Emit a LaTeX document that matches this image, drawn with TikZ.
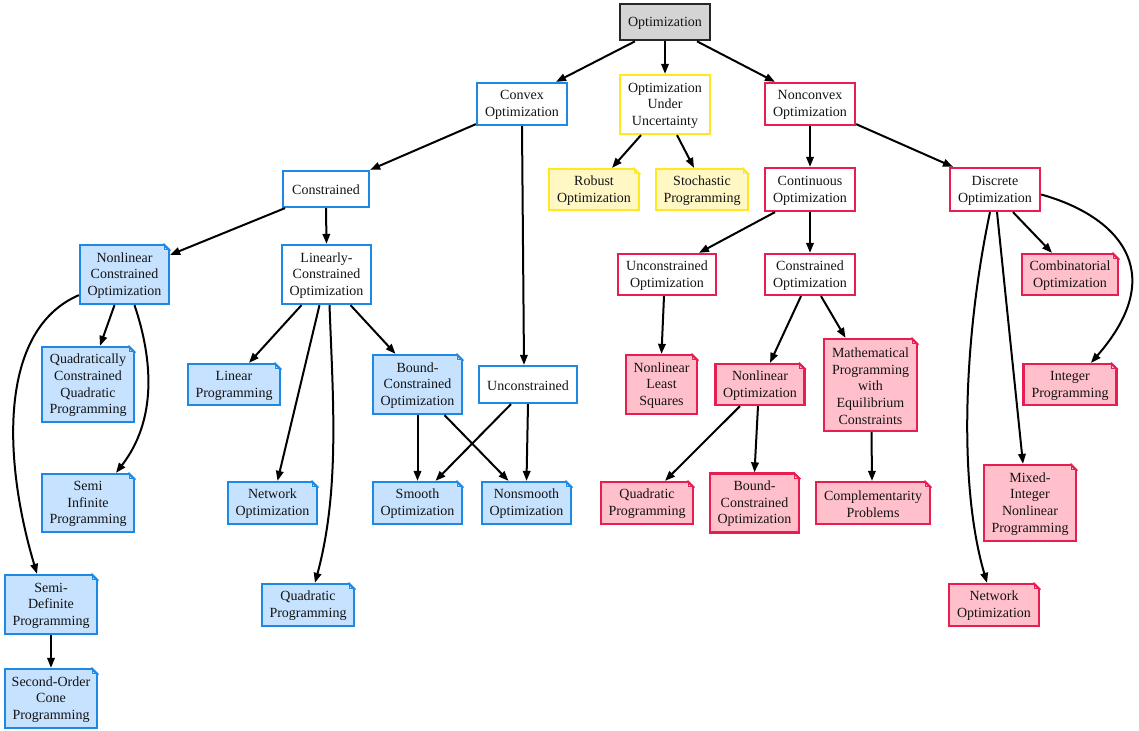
\documentclass[tikz,border=0pt]{standalone}
\usepackage{fontspec}
\setmainfont{Liberation Serif}
\usetikzlibrary{arrows.meta}
\definecolor{bluec}{HTML}{1E88E5}
\definecolor{bluef}{HTML}{C6E2FF}
\definecolor{redc}{HTML}{E91E50}
\definecolor{redf}{HTML}{FFC0CB}
\definecolor{yelc}{HTML}{FFE81F}
\definecolor{yelf}{HTML}{FFF8C4}
\tikzset{
  x=0.75pt,y=-0.75pt,
  box/.style={draw,line width=1.7pt,inner sep=0pt,align=center,font=\fontsize{10.5}{12.5}\selectfont,text=black!92},
  blue/.style={box,draw=bluec},
  red/.style={box,draw=redc},
  yel/.style={box,draw=yelc},
  root/.style={box,draw=black!85,fill=black!17,line width=2pt},
  edge/.style={line width=1.5pt,draw=black,-{Triangle[length=7.5pt,width=5.6pt]}},
}
\newcommand\nd[7]{\node[#6,minimum width=#4*0.75pt,minimum height=#5*0.75pt] (#1) at (#2,#3) {\rule{0pt}{8.6pt}#7};}
\newcommand\fold[3]{%
  \fill[white] ([shift={(-7,-1.3)}]#1.north east) -- ([shift={(1.3,-1.3)}]#1.north east) -- ([shift={(1.3,7)}]#1.north east) -- cycle;
  \fill[#3] ([shift={(-6.5,0)}]#1.north east) -- ([shift={(-6.5,6.5)}]#1.north east) -- ([shift={(0,6.5)}]#1.north east) -- cycle;
  \draw[#2,line width=1.7pt] ([shift={(-7,0)}]#1.north east) -- ([shift={(0,7)}]#1.north east);
  \draw[#2,line width=0.9pt] ([shift={(-6,0)}]#1.north east) -- ([shift={(-6,6)}]#1.north east) -- ([shift={(0,6)}]#1.north east);
}
\newcommand\bn[6]{\nd{#1}{#2}{#3}{#4}{#5}{blue,fill=bluef}{#6}\fold{#1}{bluec}{bluef!40!white}}
\newcommand\rn[6]{\nd{#1}{#2}{#3}{#4}{#5}{red,fill=redf}{#6}\fold{#1}{redc}{redf!40!white}}
\newcommand\yn[6]{\nd{#1}{#2}{#3}{#4}{#5}{yel,fill=yelf}{#6}\fold{#1}{yelc}{yelf!40!white}}
\newcommand\ed[4]{\draw[edge] ([shift={(#2,0)}]#1.south) -- ([shift={(#4,0)}]#3.north);}
\begin{document}
\begin{tikzpicture}
\useasboundingbox (0,0) rectangle (1139,731);
\nd{opt}{665}{22}{90}{36}{root}{Optimization}
\nd{convex}{522}{104}{90}{42}{blue}{Convex\\Optimization}
\nd{ouu}{665}{104.5}{90}{59}{yel}{Optimization\\Under\\Uncertainty}
\nd{nonconvex}{810}{104}{90}{42}{red}{Nonconvex\\Optimization}
\nd{constr}{326}{189}{86}{36}{blue}{Constrained}
\yn{robust}{594}{189.5}{90}{41}{Robust\\Optimization}
\yn{stoch}{702}{189.5}{92}{41}{Stochastic\\Programming}
\nd{cont}{810}{189.5}{90}{43}{red}{Continuous\\Optimization}
\nd{disc}{995}{189.5}{90}{43}{red}{Discrete\\Optimization}
\bn{nlco}{124.5}{274.5}{89}{59}{Nonlinear\\Constrained\\Optimization}
\nd{lin}{326.5}{274.5}{89}{59}{blue}{Linearly-\\Constrained\\Optimization}
\nd{unco}{667}{274.5}{98}{41}{red}{Unconstrained\\Optimization}
\nd{coo}{810}{274.5}{90}{41}{red}{Constrained\\Optimization}
\rn{comb}{1070}{274.5}{96}{41}{Combinatorial\\Optimization}
\bn{qcqp}{88}{384.5}{92}{75}{Quadratically\\Constrained\\Quadratic\\Programming}
\bn{lp}{234}{384.5}{92}{41}{Linear\\Programming}
\bn{bound}{417.5}{384.5}{89}{59}{Bound-\\Constrained\\Optimization}
\nd{uncon}{528}{384.5}{98}{37}{blue}{Unconstrained}
\rn{nls}{661.5}{384.5}{71}{59}{Nonlinear\\Least\\Squares}
\rn{nlo}{760}{384.5}{89}{41}{Nonlinear\\Optimization}
\rn{mpec}{870.5}{385}{93}{92}{Mathematical\\Programming\\with\\Equilibrium\\Constraints}
\rn{integer}{1070}{384.5}{93}{41}{Integer\\Programming}
\bn{sip}{88}{503}{92}{58}{Semi\\Infinite\\Programming}
\bn{net}{272.5}{503}{89}{42}{Network\\Optimization}
\bn{smooth}{417.5}{503}{89}{42}{Smooth\\Optimization}
\bn{nonsm}{526.5}{503}{89}{42}{Nonsmooth\\Optimization}
\rn{qp}{647}{503}{92}{42}{Quadratic\\Programming}
\rn{bound2}{754.5}{503}{89}{59}{Bound-\\Constrained\\Optimization}
\rn{compl}{873}{503}{114}{42}{Complementarity\\Problems}
\rn{minlp}{1030}{503}{92}{76}{Mixed-\\Integer\\Nonlinear\\Programming}
\bn{sdp}{51}{604.5}{92}{59}{Semi-\\Definite\\Programming}
\bn{qp2}{308}{605}{92}{42}{Quadratic\\Programming}
\rn{net2}{994}{605}{90}{42}{Network\\Optimization}
\bn{socp}{51}{698.5}{92}{59}{Second-Order\\Cone\\Programming}
\ed{opt}{-30}{convex}{34}
\ed{opt}{0}{ouu}{0}
\ed{opt}{32}{nonconvex}{-35}
\draw[edge] ([shift={(0,-2)}]convex.south west) -- (constr.north east);
\ed{convex}{0}{uncon}{-4}
\ed{ouu}{-24}{robust}{18}
\ed{ouu}{12}{stoch}{-8}
\ed{nonconvex}{0}{cont}{0}
\draw[edge] ([shift={(0,-2)}]nonconvex.south east) -- ([shift={(-42,0)}]disc.north);
\draw[edge] ([shift={(-41,0)}]constr.south) -- ([shift={(0,11)}]nlco.north east);
\ed{constr}{0}{lin}{0}
\ed{cont}{-35}{unco}{32}
\ed{cont}{0}{coo}{0}
\ed{disc}{18}{comb}{-18}
\ed{nlco}{-10}{qcqp}{12}
\draw[edge] ([shift={(10,0)}]nlco.south) .. controls (153,360) and (157,420) .. ([shift={(28,0)}]sip.north);
\draw[edge] ([shift={(0,-10)}]nlco.south west) .. controls (-2,330) and (3,460) .. ([shift={(-14,0)}]sdp.north);
\ed{lin}{-25}{lp}{15}
\ed{lin}{-7}{net}{5}
\draw[edge] ([shift={(3,0)}]lin.south) .. controls (333,400) and (340,490) .. ([shift={(7,0)}]qp2.north);
\ed{lin}{24}{bound}{-22}
\ed{bound}{0}{smooth}{0}
\ed{bound}{27}{nonsm}{-18}
\ed{uncon}{-17}{smooth}{18}
\ed{uncon}{0}{nonsm}{0}
\ed{unco}{-3}{nls}{0}
\ed{coo}{-9}{nlo}{10}
\ed{coo}{11}{mpec}{-25}
\ed{nlo}{-20}{qp}{18}
\ed{nlo}{-2}{bound2}{0}
\ed{mpec}{1}{compl}{-1}
\draw[edge] ([shift={(-5,0)}]disc.south) .. controls (965,330) and (957,480) .. ([shift={(-7,0)}]net2.north);
\ed{disc}{2}{minlp}{-7}
\draw[edge] ([shift={(0,5)}]disc.east) .. controls (1115,215) and (1172,270) .. ([shift={(21,0)}]integer.north);
\ed{sdp}{0}{socp}{0}
\end{tikzpicture}
\end{document}
